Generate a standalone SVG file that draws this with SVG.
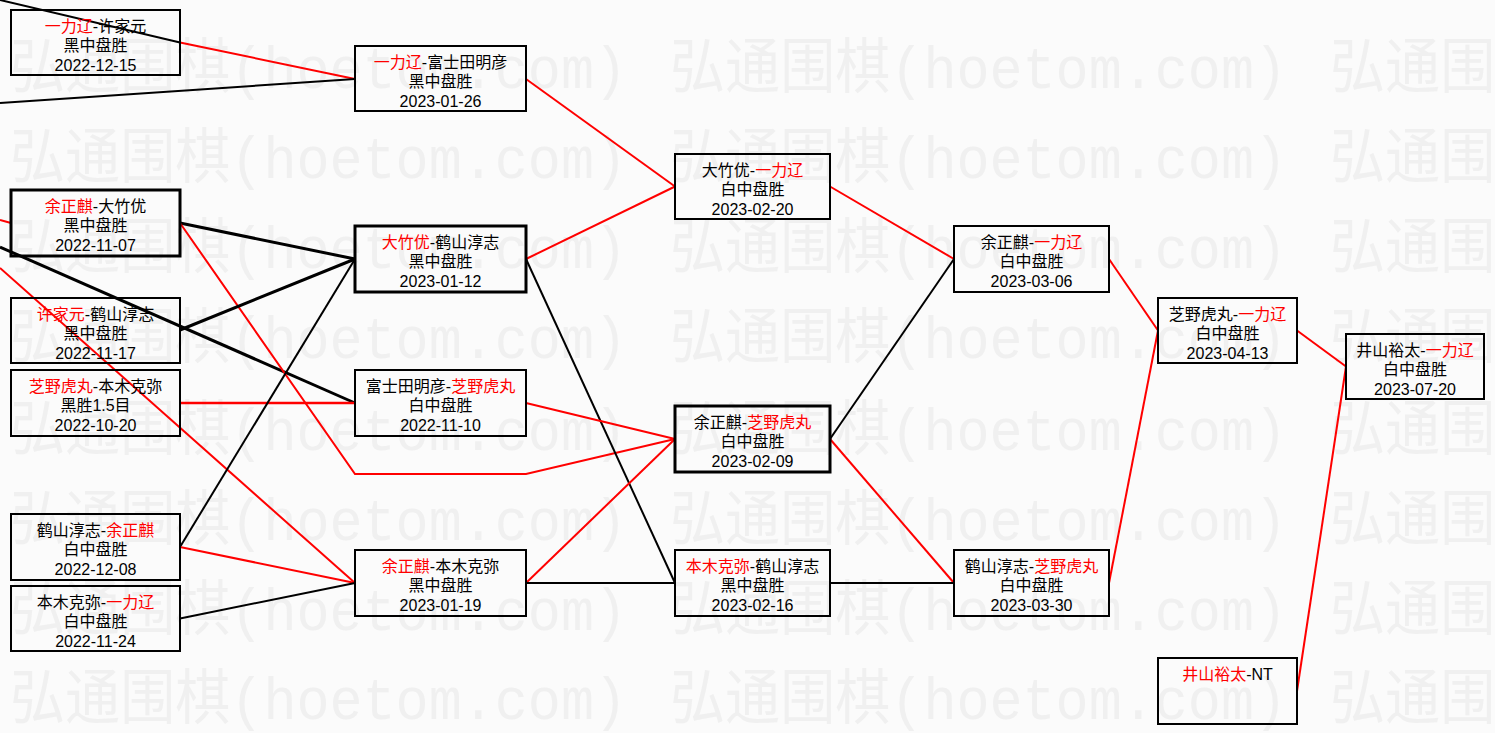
<svg xmlns="http://www.w3.org/2000/svg" xmlns:xlink="http://www.w3.org/1999/xlink" width="1495" height="733" viewBox="0 0 1495 733">
<style>
.wm{font-family:"Liberation Mono","Noto Sans CJK SC",monospace;font-size:60px;fill:#f0f0f0}
.box{fill:none;stroke:#000;stroke-width:2}
.bold{stroke-width:3}
.t{font-family:"Liberation Sans","Noto Sans CJK SC",sans-serif;font-size:16px;fill:#000;text-anchor:middle}
.r{fill:#ff0000}
.cr{fill:none;stroke:#ff0000;stroke-width:2}
.cb{fill:none;stroke:#000;stroke-width:2}
.cbt{fill:none;stroke:#000;stroke-width:3}
</style>
<defs>
<g id="wmrow">
<text class="wm" x="10" y="0" textLength="617" lengthAdjust="spacingAndGlyphs">弘通围棋(hoetom.com)</text>
<text class="wm" x="670" y="0" textLength="617" lengthAdjust="spacingAndGlyphs">弘通围棋(hoetom.com)</text>
<text class="wm" x="1330" y="0" textLength="617" lengthAdjust="spacingAndGlyphs">弘通围棋(hoetom.com)</text>
</g>
</defs>
<rect x="0" y="0" width="1495" height="733" fill="#fbfbfb"/>
<g id="watermark">
<use xlink:href="#wmrow" x="0" y="88"/>
<use xlink:href="#wmrow" x="0" y="178"/>
<use xlink:href="#wmrow" x="0" y="268"/>
<use xlink:href="#wmrow" x="0" y="358"/>
<use xlink:href="#wmrow" x="0" y="450"/>
<use xlink:href="#wmrow" x="0" y="540"/>
<use xlink:href="#wmrow" x="0" y="630"/>
<use xlink:href="#wmrow" x="0" y="719"/>
</g>
<g id="connectors">
<line class="cb" x1="0" y1="0" x2="180" y2="42.5"/>
<line class="cr" x1="180" y1="42.5" x2="355" y2="79"/>
<line class="cb" x1="0" y1="103" x2="355" y2="79"/>
<line class="cr" x1="0" y1="220" x2="11" y2="223"/>
<line class="cbt" x1="0" y1="247" x2="355" y2="403"/>
<line class="cr" x1="0" y1="268" x2="355" y2="583"/>
<line class="cbt" x1="180" y1="223" x2="355" y2="259"/>
<polyline class="cr" points="180,223 355,474 526,474 675,439"/>
<line class="cbt" x1="180" y1="330" x2="355" y2="259"/>
<line class="cr" x1="180" y1="403" x2="355" y2="403" style="stroke-width:2.5"/>
<line class="cb" x1="180" y1="547" x2="355" y2="259"/>
<line class="cr" x1="180" y1="547" x2="355" y2="583"/>
<line class="cb" x1="180" y1="618.5" x2="355" y2="583"/>
<line class="cr" x1="526" y1="79" x2="675" y2="186.5"/>
<line class="cr" x1="526" y1="259" x2="675" y2="186.5"/>
<line class="cb" x1="526" y1="259" x2="675" y2="583"/>
<line class="cr" x1="526" y1="403" x2="675" y2="439"/>
<line class="cr" x1="526" y1="583" x2="675" y2="439"/>
<line class="cb" x1="526" y1="583" x2="675" y2="583"/>
<line class="cr" x1="830" y1="186.5" x2="954" y2="259"/>
<line class="cb" x1="830" y1="439" x2="954" y2="259"/>
<line class="cr" x1="830" y1="439" x2="954" y2="583"/>
<line class="cb" x1="830" y1="583" x2="954" y2="583"/>
<line class="cr" x1="1109" y1="259" x2="1158" y2="330.5"/>
<line class="cr" x1="1109" y1="583" x2="1158" y2="330.5"/>
<line class="cr" x1="1297" y1="330.5" x2="1346" y2="366.5"/>
<line class="cr" x1="1297" y1="691" x2="1346" y2="366.5"/>
</g>
<g id="n-a1"><rect class="box" x="11" y="10" width="169" height="65"/>
<text class="t" x="95.5" y="32"><tspan class="r">一力辽</tspan>-许家元</text>
<text class="t" x="95.5" y="51">黑中盘胜</text>
<text class="t" x="95.5" y="71">2022-12-15</text></g>
<g id="n-a2"><rect class="box bold" x="11" y="190" width="169" height="66"/>
<text class="t" x="95.5" y="212"><tspan class="r">余正麒</tspan>-大竹优</text>
<text class="t" x="95.5" y="231">黑中盘胜</text>
<text class="t" x="95.5" y="251">2022-11-07</text></g>
<g id="n-a3"><rect class="box" x="11" y="298" width="169" height="65"/>
<text class="t" x="95.5" y="320"><tspan class="r">许家元</tspan>-鹤山淳志</text>
<text class="t" x="95.5" y="339">黑中盘胜</text>
<text class="t" x="95.5" y="359">2022-11-17</text></g>
<g id="n-a4"><rect class="box" x="11" y="370" width="169" height="66"/>
<text class="t" x="95.5" y="392"><tspan class="r">芝野虎丸</tspan>-本木克弥</text>
<text class="t" x="95.5" y="411">黑胜1.5目</text>
<text class="t" x="95.5" y="431">2022-10-20</text></g>
<g id="n-a5"><rect class="box" x="11" y="514" width="169" height="66"/>
<text class="t" x="95.5" y="536">鹤山淳志-<tspan class="r">余正麒</tspan></text>
<text class="t" x="95.5" y="555">白中盘胜</text>
<text class="t" x="95.5" y="575">2022-12-08</text></g>
<g id="n-a6"><rect class="box" x="11" y="586" width="169" height="65"/>
<text class="t" x="95.5" y="608">本木克弥-<tspan class="r">一力辽</tspan></text>
<text class="t" x="95.5" y="627">白中盘胜</text>
<text class="t" x="95.5" y="647">2022-11-24</text></g>
<g id="n-b1"><rect class="box" x="355" y="46" width="171" height="65"/>
<text class="t" x="440.5" y="68"><tspan class="r">一力辽</tspan>-富士田明彦</text>
<text class="t" x="440.5" y="87">黑中盘胜</text>
<text class="t" x="440.5" y="107">2023-01-26</text></g>
<g id="n-b2"><rect class="box bold" x="355" y="226" width="171" height="66"/>
<text class="t" x="440.5" y="248"><tspan class="r">大竹优</tspan>-鹤山淳志</text>
<text class="t" x="440.5" y="267">黑中盘胜</text>
<text class="t" x="440.5" y="287">2023-01-12</text></g>
<g id="n-b3"><rect class="box" x="355" y="370" width="171" height="66"/>
<text class="t" x="440.5" y="392">富士田明彦-<tspan class="r">芝野虎丸</tspan></text>
<text class="t" x="440.5" y="411">白中盘胜</text>
<text class="t" x="440.5" y="431">2022-11-10</text></g>
<g id="n-b4"><rect class="box" x="355" y="550" width="171" height="66"/>
<text class="t" x="440.5" y="572"><tspan class="r">余正麒</tspan>-本木克弥</text>
<text class="t" x="440.5" y="591">黑中盘胜</text>
<text class="t" x="440.5" y="611">2023-01-19</text></g>
<g id="n-c1"><rect class="box" x="675" y="154" width="155" height="65"/>
<text class="t" x="752.5" y="176">大竹优-<tspan class="r">一力辽</tspan></text>
<text class="t" x="752.5" y="195">白中盘胜</text>
<text class="t" x="752.5" y="215">2023-02-20</text></g>
<g id="n-c2"><rect class="box bold" x="675" y="406" width="155" height="66"/>
<text class="t" x="752.5" y="428">余正麒-<tspan class="r">芝野虎丸</tspan></text>
<text class="t" x="752.5" y="447">白中盘胜</text>
<text class="t" x="752.5" y="467">2023-02-09</text></g>
<g id="n-c3"><rect class="box" x="675" y="550" width="155" height="66"/>
<text class="t" x="752.5" y="572"><tspan class="r">本木克弥</tspan>-鹤山淳志</text>
<text class="t" x="752.5" y="591">黑中盘胜</text>
<text class="t" x="752.5" y="611">2023-02-16</text></g>
<g id="n-d1"><rect class="box" x="954" y="226" width="155" height="66"/>
<text class="t" x="1031.5" y="248">余正麒-<tspan class="r">一力辽</tspan></text>
<text class="t" x="1031.5" y="267">白中盘胜</text>
<text class="t" x="1031.5" y="287">2023-03-06</text></g>
<g id="n-d2"><rect class="box" x="954" y="550" width="155" height="66"/>
<text class="t" x="1031.5" y="572">鹤山淳志-<tspan class="r">芝野虎丸</tspan></text>
<text class="t" x="1031.5" y="591">白中盘胜</text>
<text class="t" x="1031.5" y="611">2023-03-30</text></g>
<g id="n-e1"><rect class="box" x="1158" y="298" width="139" height="65"/>
<text class="t" x="1227.5" y="320">芝野虎丸-<tspan class="r">一力辽</tspan></text>
<text class="t" x="1227.5" y="339">白中盘胜</text>
<text class="t" x="1227.5" y="359">2023-04-13</text></g>
<g id="n-e2"><rect class="box" x="1158" y="658" width="139" height="66"/>
<text class="t" x="1227.5" y="680"><tspan class="r">井山裕太</tspan>-NT</text></g>
<g id="n-f1"><rect class="box" x="1346" y="334" width="138" height="65"/>
<text class="t" x="1415" y="356">井山裕太-<tspan class="r">一力辽</tspan></text>
<text class="t" x="1415" y="375">白中盘胜</text>
<text class="t" x="1415" y="395">2023-07-20</text></g>
</svg>
